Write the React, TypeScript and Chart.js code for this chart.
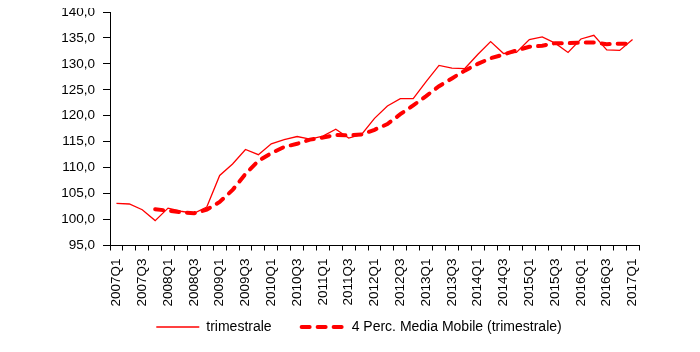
import React, { useEffect, useRef } from "react";
import { Chart, registerables } from "chart.js";

Chart.register(...registerables);

const quarters: string[] = [
  "2007Q1", "2007Q2", "2007Q3", "2007Q4",
  "2008Q1", "2008Q2", "2008Q3", "2008Q4",
  "2009Q1", "2009Q2", "2009Q3", "2009Q4",
  "2010Q1", "2010Q2", "2010Q3", "2010Q4",
  "2011Q1", "2011Q2", "2011Q3", "2011Q4",
  "2012Q1", "2012Q2", "2012Q3", "2012Q4",
  "2013Q1", "2013Q2", "2013Q3", "2013Q4",
  "2014Q1", "2014Q2", "2014Q3", "2014Q4",
  "2015Q1", "2015Q2", "2015Q3", "2015Q4",
  "2016Q1", "2016Q2", "2016Q3", "2016Q4",
  "2017Q1",
];

const trimestrale: number[] = [
  103.1, 103.0, 101.9, 99.8,
  102.2, 101.6, 101.2, 102.4,
  108.5, 110.7, 113.5, 112.5,
  114.6, 115.4, 116.0, 115.5,
  116.1, 117.4, 115.7, 116.4,
  119.5, 121.9, 123.3, 123.3,
  126.6, 129.7, 129.2, 129.1,
  131.8, 134.3, 132.0, 132.2,
  134.7, 135.2, 134.0, 132.2,
  134.8, 135.5, 132.7, 132.6,
  134.7,
];

const mediaMobile: (number | null)[] = [
  null, null, null, 102.0,
  101.7, 101.4, 101.2, 101.9,
  103.4, 105.7, 108.8, 111.3,
  112.8, 114.0, 114.6, 115.4,
  115.8, 116.3, 116.2, 116.4,
  117.3, 118.4, 120.3, 122.0,
  123.8, 125.7, 127.2, 128.7,
  130.0, 131.1, 131.8, 132.6,
  133.3, 133.5, 134.0, 134.0,
  134.1, 134.1, 133.8, 133.9,
  133.9,
];

const seriesNames: string[] = ["trimestrale", "4 Perc. Media Mobile (trimestrale)"];

const yMin = 95;
const yMax = 140;
const yStep = 5;

function fixScale(scale: any, size: { width?: number; height?: number }) {
  if (size.width !== undefined) scale.width = size.width;
  if (size.height !== undefined) scale.height = size.height;
  scale.paddingLeft = 0;
  scale.paddingRight = 0;
  scale.paddingTop = 0;
  scale.paddingBottom = 0;
  // let tick labels overflow the (compact) scale box instead of being clipped
  scale._computeLabelArea = () => undefined;
}

export default function App() {
  const canvasRef = useRef<HTMLCanvasElement | null>(null);

  useEffect(() => {
    if (!canvasRef.current) return;
    const family = "'Liberation Sans', Arial, sans-serif";
    const tickFont = { family, size: 13.5 };
    const legendFont = { family, size: 14 };
    const chart = new Chart(canvasRef.current, {
      type: "line",
      data: {
        labels: quarters,
        datasets: [
          {
            label: seriesNames[0],
            data: trimestrale,
            borderColor: "#FF0000",
            backgroundColor: "#FF0000",
            borderWidth: 1.3,
            pointRadius: 0,
            tension: 0,
            fill: false,
          },
          {
            label: seriesNames[1],
            data: mediaMobile,
            borderColor: "#FF0000",
            backgroundColor: "#FF0000",
            borderWidth: 4,
            borderDash: [8, 8],
            borderCapStyle: "round",
            pointRadius: 0,
            tension: 0,
            fill: false,
          },
        ],
      },
      options: {
        animation: false,
        responsive: true,
        maintainAspectRatio: false,
        layout: {
          autoPadding: false,
          padding: { left: 71, right: 53, top: 8, bottom: 0 },
        },
        plugins: {
          tooltip: { enabled: false },
          legend: {
            position: "bottom",
            labels: {
              usePointStyle: true,
              pointStyle: "line",
              pointStyleWidth: 43,
              padding: 30,
              color: "#000",
              font: legendFont,
              generateLabels: (c: any) => {
                const items = (Chart as any).defaults.plugins.legend.labels.generateLabels(c);
                items.forEach((it: any) => {
                  const ds: any = c.data.datasets[it.datasetIndex];
                  it.lineDash = ds.borderDash || [];
                  it.lineWidth = ds.borderWidth;
                  it.lineCap = ds.borderCapStyle || "butt";
                  it.strokeStyle = ds.borderColor;
                });
                return items;
              },
            },
          },
        },
        scales: {
          x: {
            type: "category",
            offset: true,
            grid: {
              display: true,
              offset: true,
              drawOnChartArea: false,
              drawTicks: true,
              tickLength: 5,
              color: "#000",
            },
            border: { display: true, color: "#000", width: 1 },
            ticks: {
              autoSkip: false,
              maxRotation: 90,
              minRotation: 90,
              padding: 8,
              color: "#000",
              font: tickFont,
              callback: (_v: any, idx: number) => (idx % 2 === 0 ? quarters[idx] : ""),
            },
            afterFit: (scale: any) => fixScale(scale, { height: 44.5 }),
          },
          y: {
            min: yMin,
            max: yMax,
            grid: {
              display: true,
              drawOnChartArea: false,
              drawTicks: true,
              tickLength: 7,
              color: "#000",
            },
            border: { display: true, color: "#000", width: 1 },
            ticks: {
              stepSize: yStep,
              padding: 8,
              color: "#000",
              font: tickFont,
              callback: (v: any) => Number(v).toFixed(1).replace(".", ","),
            },
            afterFit: (scale: any) => fixScale(scale, { width: 31 }),
          },
        },
      },
    });
    return () => chart.destroy();
  }, []);

  return (
    <div style={{ position: "relative", width: "684px", height: "340px", marginTop: "-4px" }}>
      <canvas ref={canvasRef} />
    </div>
  );
}
